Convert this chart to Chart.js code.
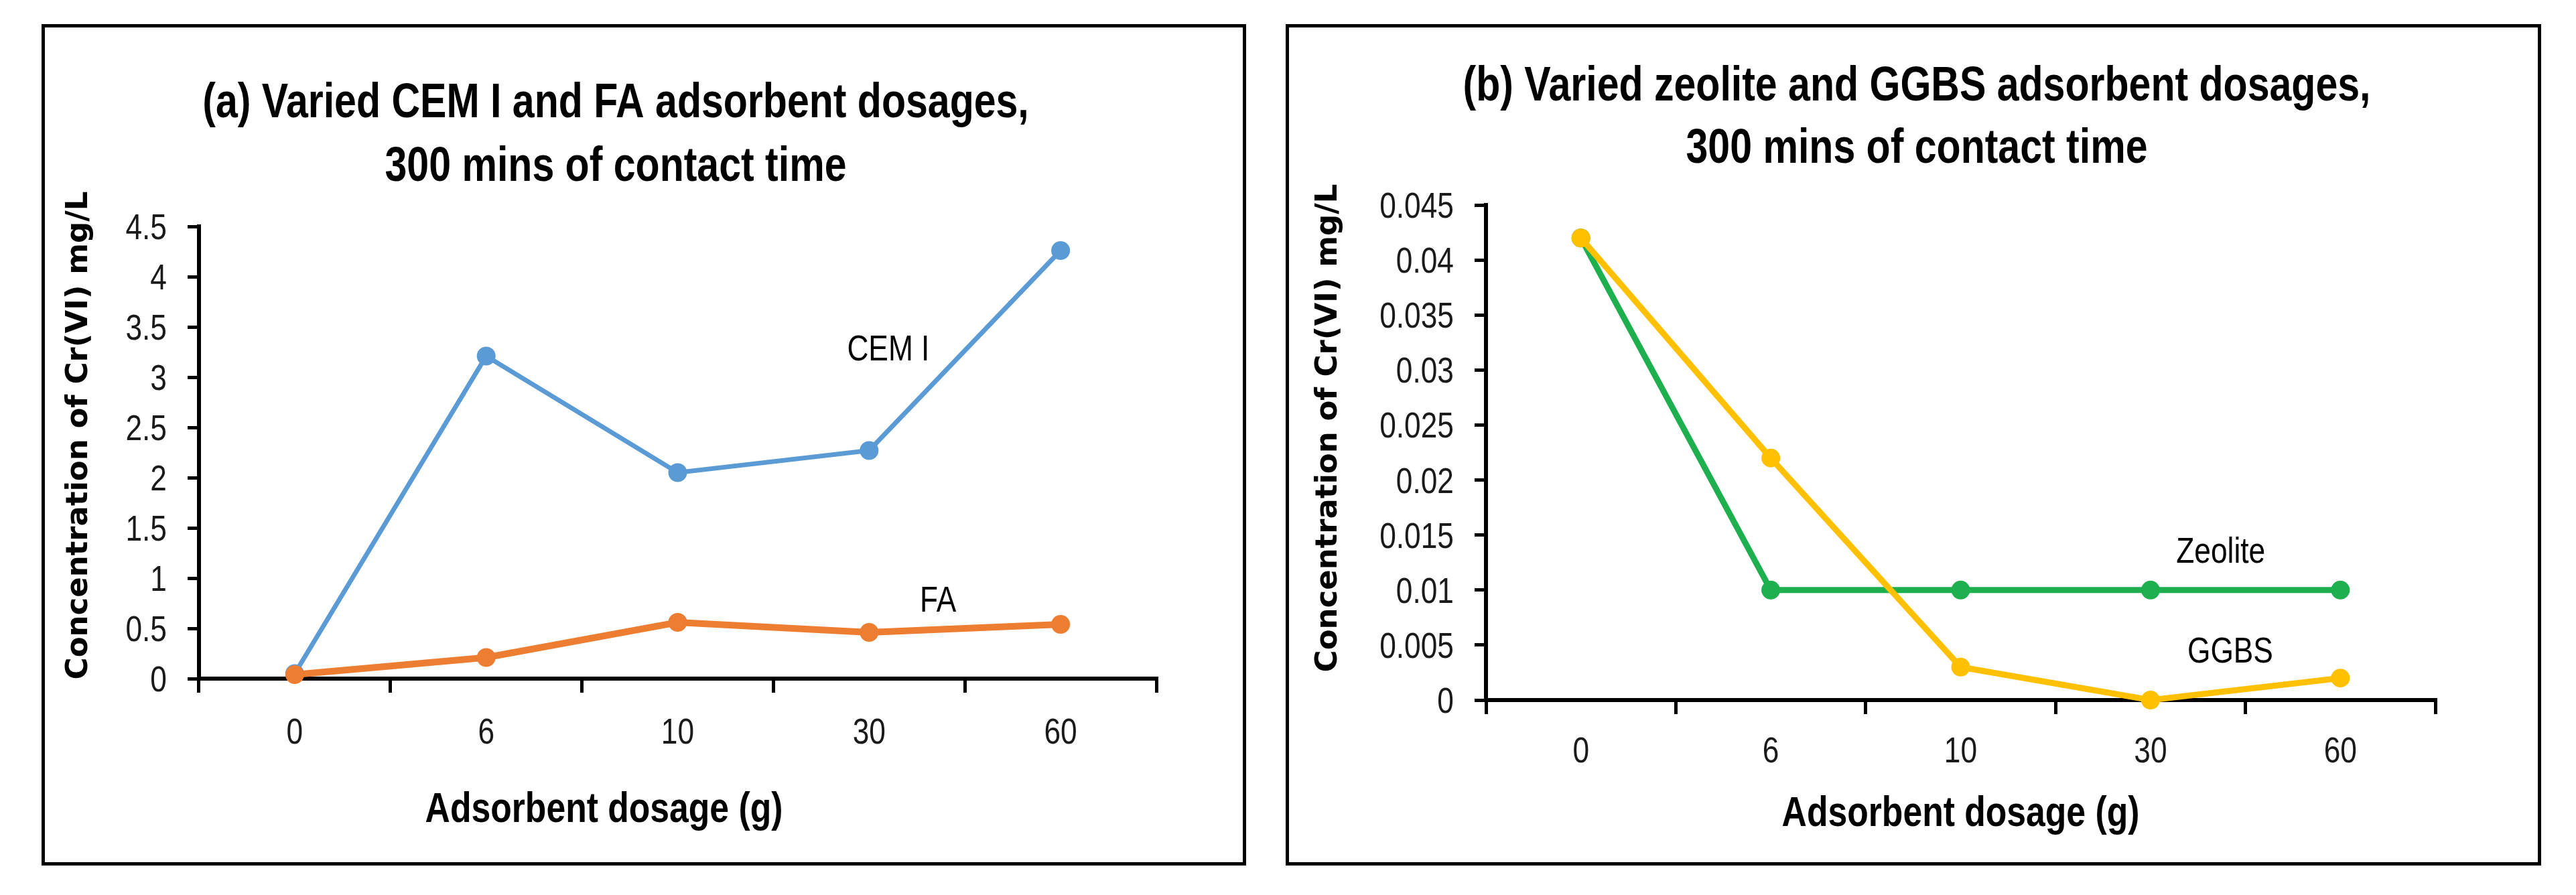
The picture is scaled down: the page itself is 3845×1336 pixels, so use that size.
<!DOCTYPE html>
<html>
<head>
<meta charset="utf-8">
<script src="https://cdn.jsdelivr.net/npm/chart.js@4.4.1/dist/chart.umd.min.js"></script>
<style>
  html, body { margin: 0; padding: 0; background: #fff; }
  body { width: 3845px; height: 1336px; position: relative; overflow: hidden; }
  .box { position: absolute; border: 5px solid #000; background: #fff; }
  .box canvas { display: block; }
</style>
</head>
<body>
<div class="box" style="left:62px; top:36px; width:1788px; height:1246px;">
  <canvas id="chartA" width="1788" height="1246" style="width:1788px;height:1246px;"></canvas>
</div>
<div class="box" style="left:1919px; top:36px; width:1864px; height:1246px;">
  <canvas id="chartB" width="1864" height="1246" style="width:1864px;height:1246px;"></canvas>
</div>
<script>
// --- DATA ---
const dosages = ["0", "6", "10", "30", "60"];
const cemI = [0.05, 3.21, 2.05, 2.27, 4.26];
const fa = [0.04, 0.21, 0.56, 0.46, 0.54];
const zeolite = [0.042, 0.01, 0.01, 0.01, 0.01];
const ggbs = [0.042, 0.022, 0.003, 0, 0.002];

const yMaxA = 4.5, yStepA = 0.5;
const yMaxB = 0.045, yStepB = 0.005;

const titleA = ["(a) Varied CEM I and FA adsorbent dosages,", "300 mins of contact time"];
const titleB = ["(b) Varied zeolite and GGBS adsorbent dosages,", "300 mins of contact time"];
const xTitle = "Adsorbent dosage (g)";
const yTitle = "Concentration of Cr(VI) mg/L";

// no narrow font installed: Liberation Sans squeezed horizontally stands in for it
const SANS = '"Liberation Sans", Arial, sans-serif';
const WIDE = '"DejaVu Sans", Verdana, sans-serif';
const SQUEEZE = 0.82;

function narrowText(ctx, text, x, y, font, align) {
  ctx.save();
  ctx.translate(x, y);
  ctx.scale(SQUEEZE, 1);
  ctx.font = font;
  ctx.textAlign = align || "center";
  ctx.fillText(text, 0, 0);
  ctx.restore();
}

// --- TEXT DRAWN ON THE CANVAS (titles, tick labels, axis titles, series labels) ---
const panelText = {
  id: "panelText",
  afterDraw(chart, args, o) {
    const ctx = chart.ctx;
    const area = chart.chartArea;
    const xs = chart.scales.x, ys = chart.scales.y;
    ctx.save();
    ctx.fillStyle = "#000";
    ctx.textBaseline = "alphabetic";

    o.title.forEach((line, i) => narrowText(ctx, line, o.titleX, o.titleY[i], "bold 72px " + SANS));

    narrowText(ctx, xTitle, (area.left + area.right) / 2 + o.xTitleShift, area.bottom + o.xTitleGap, "bold 63px " + SANS);

    ctx.save();
    ctx.translate(o.yTitleX, o.yTitleY);
    ctx.rotate(-Math.PI / 2);
    ctx.font = "bold 45px " + WIDE;
    ctx.textAlign = "center";
    ctx.fillText(yTitle, 0, 0);
    ctx.restore();

    // tick labels, placed from the library's scales
    ctx.fillStyle = "#1a1a1a";
    xs.ticks.forEach((t, i) => {
      narrowText(ctx, xs.getLabelForValue(t.value), xs.getPixelForTick(i), area.bottom + o.xLabelGap, "54px " + SANS);
    });
    ys.ticks.forEach((t, i) => {
      narrowText(ctx, o.fmt(t.value), area.left - 48, ys.getPixelForTick(i) + 19, "54px " + SANS, "right");
    });

    ctx.fillStyle = "#000";
    o.labels.forEach((l) => {
      narrowText(ctx, l.text, xs.getPixelForValue(l.at), ys.getPixelForValue(l.value), "54px " + SANS);
    });
    ctx.restore();
  },
};

function makeChart(id, datasets, yMax, yStep, layout, text) {
  return new Chart(document.getElementById(id), {
    type: "line",
    data: { labels: dosages, datasets: datasets },
    plugins: [panelText],
    options: {
      responsive: false,
      animation: false,
      devicePixelRatio: 1,
      layout: { padding: { left: 0, right: layout.right, top: layout.top, bottom: 0 } },
      plugins: { legend: { display: false }, tooltip: { enabled: false }, panelText: text },
      scales: {
        x: {
          type: "category",
          offset: true,
          grid: { offset: true, drawOnChartArea: false, color: "#000", lineWidth: 5, tickLength: 21 },
          border: { color: "#000", width: 6 },
          ticks: { display: false },
          afterFit: (s) => { s.height = layout.xHeight; },
        },
        y: {
          min: 0,
          max: yMax,
          grid: { drawOnChartArea: false, color: "#000", lineWidth: 5, tickLength: 17 },
          border: { color: "#000", width: 6 },
          ticks: { display: false, stepSize: yStep },
          afterFit: (s) => { s.width = layout.yWidth; },
        },
      },
    },
  });
}

function series(label, values, color, width, radius) {
  return {
    label: label,
    data: values,
    borderColor: color,
    backgroundColor: color,
    borderWidth: width,
    pointRadius: radius,
    pointBorderWidth: 0,
    pointBackgroundColor: color,
    tension: 0,
    clip: false,
  };
}

// FA / GGBS first so they are drawn on top
makeChart(
  "chartA",
  [series("FA", fa, "#ED7D31", 10, 14), series("CEM I", cemI, "#5B9BD5", 7, 14)],
  yMaxA, yStepA,
  { right: 129, top: 297, xHeight: 274, yWidth: 230 },
  {
    title: titleA, titleX: 852, titleY: [134, 229],
    xTitleShift: -110, xTitleGap: 214, xLabelGap: 97,
    yTitleX: 63, yTitleY: 609,
    fmt: (v) => String(+v.toFixed(1)),
    labels: [
      { text: "CEM I", at: 3.1, value: 3.17 },
      { text: "FA", at: 3.36, value: 0.67 },
    ],
  }
);

makeChart(
  "chartB",
  [series("GGBS", ggbs, "#FFC000", 9, 14), series("Zeolite", zeolite, "#1EB04E", 9, 14)],
  yMaxB, yStepB,
  { right: 153, top: 265, xHeight: 242, yWidth: 294 },
  {
    title: titleB, titleX: 937, titleY: [109, 202],
    xTitleShift: 0, xTitleGap: 188, xLabelGap: 93,
    yTitleX: 71, yTitleY: 598,
    fmt: (v) => String(+v.toFixed(3)),
    labels: [
      { text: "Zeolite", at: 3.37, value: 0.0125 },
      { text: "GGBS", at: 3.42, value: 0.0034 },
    ],
  }
);
</script>
</body>
</html>
